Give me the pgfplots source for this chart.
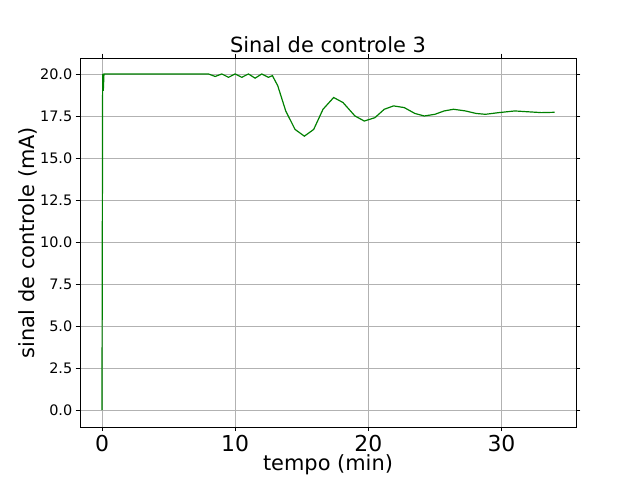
\documentclass[border=0pt]{standalone}
\usepackage{pgfplots}
\pgfplotsset{compat=1.18}
\usepackage{fontspec}
\setmainfont{DejaVu Sans}
\begin{document}
\begin{tikzpicture}[x=1bp,y=1bp]
\useasboundingbox (0,0) rectangle (640,480);
\begin{axis}[at={(80bp,53bp)},anchor=south west,scale only axis,
 width=496bp,height=369bp,
 xmin=-1.65,xmax=35.6,ymin=-1.0,ymax=20.95,
 xtick={0,10,20,30},ytick={0,2.5,...,20},
 yticklabel style={/pgf/number format/fixed,/pgf/number format/fixed zerofill,/pgf/number format/precision=1},
 /pgf/number format/assume math mode=true,
 grid=major,grid style={gray!60},
 tick align=outside,tick style={black},
 xticklabel style={font=\fontsize{22}{24}\selectfont},
 yticklabel style={font=\fontsize{14.5}{16}\selectfont},
 title={Sinal de controle 3},title style={font=\fontsize{21}{24}\selectfont,yshift=-4bp},
 xlabel={tempo (min)},ylabel={sinal de controle (mA)},
 label style={font=\fontsize{21}{24}\selectfont},
 xlabel style={yshift=4bp},ylabel style={yshift=-4bp}]
\addplot[green!50!black,line width=1.2pt] coordinates {
(0,0)(0.05,20)(0.1,19.0)(0.15,20)(2,20)(5,20)(8,20)
(8.5,19.85)(9,20)(9.5,19.8)(10,20)(10.5,19.8)(11,20)(11.5,19.75)(12,20)(12.5,19.8)(12.8,19.9)
(13.2,19.3)(13.8,17.8)(14.5,16.7)(15.2,16.3)(15.9,16.7)(16.6,17.9)(17.4,18.6)(18.1,18.3)(19,17.5)(19.7,17.2)(20.5,17.4)(21.2,17.9)(21.9,18.1)(22.7,18.0)(23.5,17.65)(24.2,17.5)(25,17.6)(25.7,17.8)(26.4,17.9)(27.3,17.8)(28.1,17.65)(28.8,17.6)(29.8,17.7)(31,17.8)(32,17.75)(33,17.7)(34,17.72)};
\end{axis}
\end{tikzpicture}
\end{document}
